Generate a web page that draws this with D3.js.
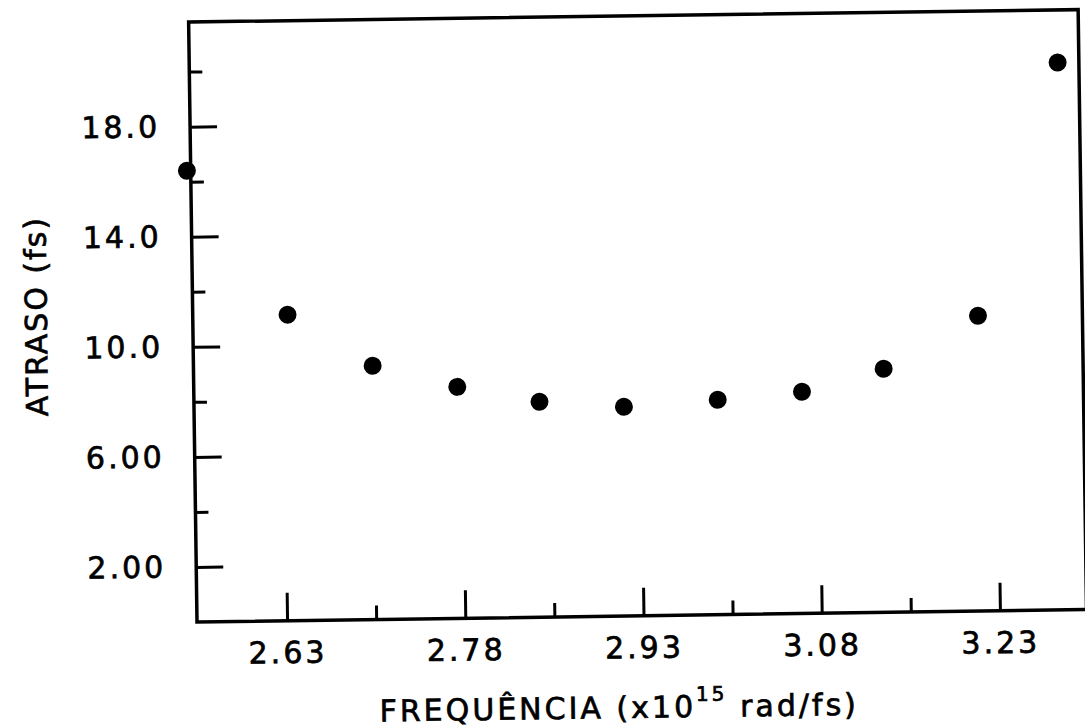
<!DOCTYPE html>
<html>
<head>
<meta charset="utf-8">
<script src="https://cdn.jsdelivr.net/npm/d3@7"></script>
<style>
  html, body { margin: 0; padding: 0; background: #fff; }
  svg { display: block; }
  text { font-family: "DejaVu Sans", sans-serif; fill: #000; stroke: #000; stroke-width: 0.7px; }
</style>
</head>
<body>
<svg id="chart" width="1085" height="728"></svg>
<script>
// ---- data ----
const freq  = [2.551, 2.634, 2.705, 2.776, 2.845, 2.916, 2.995, 3.066, 3.135, 3.215, 3.285];
const delay = [16.40, 11.12, 9.22, 8.41, 7.83, 7.60, 7.81, 8.06, 8.85, 10.73, 19.89];

const xMajorTicks = [2.63, 2.78, 2.93, 3.08, 3.23];
const xMajorLabels = ["2.63", "2.78", "2.93", "3.08", "3.23"];
const xMinorTicks = [2.705, 2.855, 3.005, 3.155];

const yMajorTicks = [2, 6, 10, 14, 18];
const yMajorLabels = ["2.00", "6.00", "10.0", "14.0", "18.0"];
const yMinorTicks = [4, 8, 12, 16, 20];

const xDomain = [2.5542, 3.3029];
const yDomain = [0, 21.8];

const xTitle = ["FREQUÊNCIA (x10", "15", " rad/fs)"];
const yTitle = "ATRASO (fs)";

// ---- layout ----
const svg = d3.select("#chart");
const mLeft = 197, mRight = 1086.6, mTop = 22, mBottom = 622;
const tilt = -0.8; // the original scan is slightly rotated

const x = d3.scaleLinear().domain(xDomain).range([mLeft, mRight]);
const y = d3.scaleLinear().domain(yDomain).range([mBottom, mTop]);

const g = svg.append("g").attr("transform", `rotate(${tilt},${mLeft},${mBottom})`);

// frame
g.append("rect")
  .attr("x", mLeft).attr("y", mTop)
  .attr("width", mRight - mLeft).attr("height", mBottom - mTop)
  .attr("fill", "none").attr("stroke", "#000").attr("stroke-width", 3.5);

// x axis major
const xAxis = d3.axisBottom(x)
  .tickValues(xMajorTicks)
  .tickFormat((d, i) => xMajorLabels[i])
  .tickSizeInner(-28).tickSizeOuter(0).tickPadding(21);
const gx = g.append("g").attr("transform", `translate(0,${mBottom})`).call(xAxis);
gx.select(".domain").remove();
gx.selectAll(".tick line").attr("stroke", "#000").attr("stroke-width", 3);
gx.selectAll(".tick text")
  .attr("font-size", 30).attr("font-family", "DejaVu Sans")
  .attr("letter-spacing", "3px").attr("fill", "#000");

// x axis minor
const xAxisMinor = d3.axisBottom(x).tickValues(xMinorTicks).tickFormat("")
  .tickSizeInner(-14).tickSizeOuter(0);
const gxm = g.append("g").attr("transform", `translate(0,${mBottom})`).call(xAxisMinor);
gxm.select(".domain").remove();
gxm.selectAll(".tick line").attr("stroke", "#000").attr("stroke-width", 3);

// y axis major
const yAxis = d3.axisLeft(y)
  .tickValues(yMajorTicks)
  .tickFormat((d, i) => yMajorLabels[i])
  .tickSizeInner(-27).tickSizeOuter(0).tickPadding(30);
const gy = g.append("g").attr("transform", `translate(${mLeft},0)`).call(yAxis);
gy.select(".domain").remove();
gy.selectAll(".tick line").attr("stroke", "#000").attr("stroke-width", 3);
gy.selectAll(".tick text")
  .attr("font-size", 30).attr("font-family", "DejaVu Sans")
  .attr("letter-spacing", "3px").attr("fill", "#000");

// y axis minor
const yAxisMinor = d3.axisLeft(y).tickValues(yMinorTicks).tickFormat("")
  .tickSizeInner(-13).tickSizeOuter(0);
const gym = g.append("g").attr("transform", `translate(${mLeft},0)`).call(yAxisMinor);
gym.select(".domain").remove();
gym.selectAll(".tick line").attr("stroke", "#000").attr("stroke-width", 3);

// points
g.append("g").selectAll("circle")
  .data(freq.map((f, i) => [f, delay[i]]))
  .join("circle")
  .attr("cx", d => x(d[0]))
  .attr("cy", d => y(d[1]))
  .attr("r", 9)
  .attr("fill", "#000");

// x title
const xt = g.append("text")
  .attr("x", 618).attr("y", 724)
  .attr("text-anchor", "middle")
  .attr("font-size", 30)
  .attr("letter-spacing", "3px");
xt.append("tspan").text(xTitle[0]);
xt.append("tspan").attr("dy", -16).attr("font-size", 20).text(xTitle[1]);
xt.append("tspan").attr("dy", 16).text(xTitle[2]);

// y title
g.append("text")
  .attr("transform", "translate(51,314) rotate(-90)")
  .attr("text-anchor", "middle")
  .attr("font-size", 30)
  .attr("letter-spacing", "2px")
  .text(yTitle);
</script>
</body>
</html>
